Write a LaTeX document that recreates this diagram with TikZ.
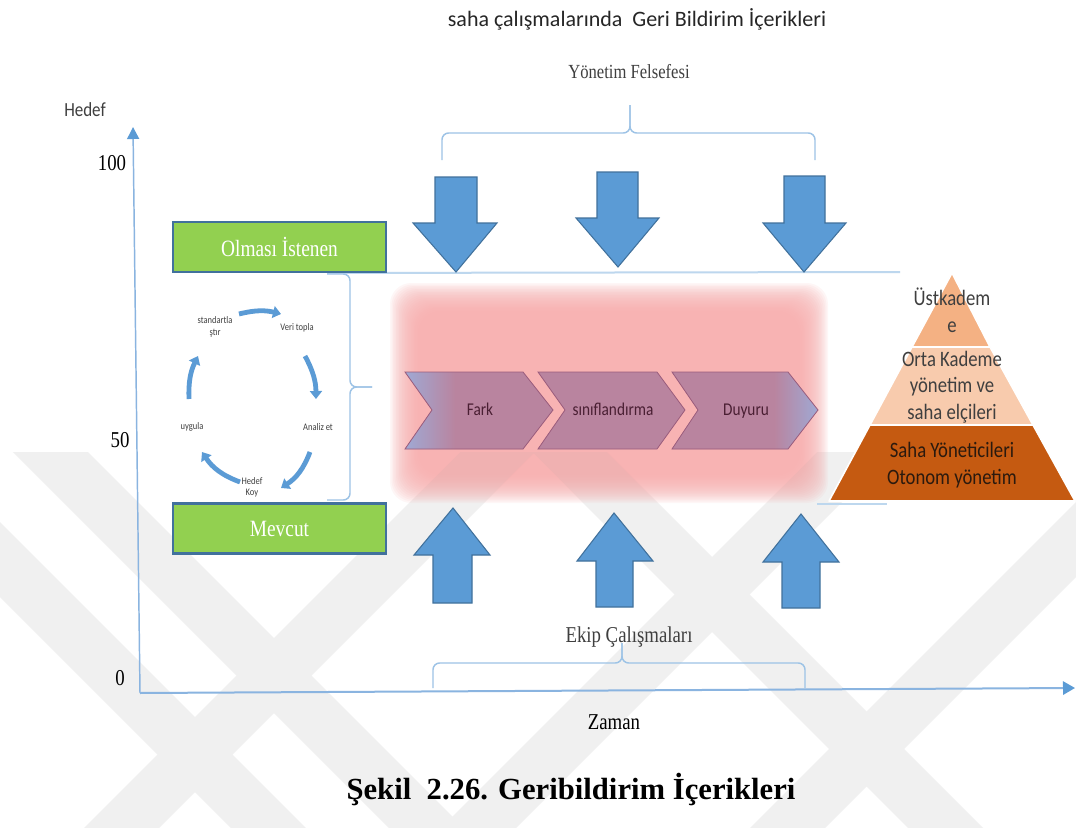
\documentclass[tikz,border=0pt]{standalone}
\usepackage{fontspec}
\usetikzlibrary{arrows.meta}

% Fonts: the figure lettering is set slightly condensed
\newfontfamily\figserif{Liberation Serif}[FakeStretch=0.83]
\newfontfamily\figsans{Carlito}[FakeStretch=0.85]
\newfontfamily\plainserif{Liberation Serif}
\newfontfamily\plainsans{Carlito}

\definecolor{axisblue}{HTML}{8AB4E0}
\definecolor{bracecol}{HTML}{9DC3E6}
\definecolor{linecol}{HTML}{BDD7EE}
\definecolor{arrowfill}{HTML}{5B9BD5}
\definecolor{arrowedge}{HTML}{41719C}
\definecolor{boxgreen}{HTML}{92D050}
\definecolor{glowpink}{HTML}{F8ADAD}
\definecolor{chevfill}{HTML}{B9849F}
\definecolor{chevedge}{HTML}{9A5C7C}
\definecolor{chevblue}{HTML}{9FA9D4}
\definecolor{chevtext}{HTML}{4A1F33}
\definecolor{tiertop}{HTML}{F4B183}
\definecolor{tiermid}{HTML}{F8CBAD}
\definecolor{tierbot}{HTML}{C55A11}
\definecolor{inktext}{HTML}{3F3F3F}
\definecolor{darkink}{HTML}{2B1A0E}
\definecolor{watermark}{HTML}{F0F0F0}

% chevron fills: blue tint only at the outer ends of the chain
\pgfdeclarehorizontalshading{chevstart}{100bp}{color(0bp)=(chevblue); color(25bp)=(chevblue); color(42bp)=(chevfill); color(100bp)=(chevfill)}
\pgfdeclarehorizontalshading{chevend}{100bp}{color(0bp)=(chevfill); color(60bp)=(chevfill); color(75bp)=(chevblue); color(100bp)=(chevblue)}

\tikzset{
  yaxisline/.style={draw=axisblue, line width=1.1pt, -{Triangle[width=9pt,length=9pt,color=arrowfill]}},
  xaxisline/.style={draw=axisblue, line width=1.5pt, -{Triangle[width=10pt,length=9pt,color=arrowfill]}},
  bracket/.style={draw=bracecol, line width=1.1pt, rounded corners=5pt},
  guide/.style={draw=linecol, line width=1.5pt},
  bigarrow/.style={fill=arrowfill, draw=arrowedge, line width=0.8pt, line join=miter},
  greenbox/.style={fill=boxgreen, draw=arrowedge, line width=1.6pt, minimum width=213*0.75pt, minimum height=50*0.75pt, inner sep=0pt, text=white, font=\figserif\fontsize{17.5}{20}\selectfont},
  chevron/.style={draw=chevedge, line width=0.6pt, fill=chevfill},
  chevlabel/.style={text=chevtext, anchor=base, font=\figsans\fontsize{13.5}{16}\selectfont},
  cyclearc/.style={draw=arrowfill, line width=3.6pt, -{Triangle[width=9pt,length=6pt]}},
  cyclelabel/.style={text=inktext, font=\figsans\fontsize{7.5}{8.5}\selectfont, align=center},
  tier/.style={draw=white, line width=1.2pt, line join=round},
  tierlabel/.style={align=center, font=\figsans\fontsize{16.5}{20}\selectfont},
  axislabel/.style={text=black, font=\figserif\fontsize{17}{20}\selectfont},
  band/.style={fill=watermark},
}

\begin{document}
\begin{tikzpicture}[x=0.75pt, y=-0.75pt]
\useasboundingbox (0,0) rectangle (1076,828);
\fill[white] (0,0) rectangle (1076,828);

% light background emblem: diagonal bands at 45 degrees
\begin{scope}
  \clip (0,452) rectangle (1076,828);
  % bands falling to the right (x - y = const)
  \foreach \c in {-439,-597,80} {
    \fill[band] ({\c+400},400) -- ({\c+475},400) -- ({\c+905},830) -- ({\c+830},830) -- cycle;
  }
  % bands rising to the right (x + y = const)
  \foreach \d in {912,1269,1578} {
    \fill[band] ({\d-830},830) -- ({\d-755},830) -- ({\d-325},400) -- ({\d-400},400) -- cycle;
  }
\end{scope}

% title and group labels
\node[font=\plainsans\fontsize{16.5}{20}\selectfont, text=black!85] (title) at (637,19) {saha çalışmalarında\ \ Geri Bildirim İçerikleri};
\node[font=\figserif\fontsize{15}{18}\selectfont, text=inktext] (philo) at (629,72) {Yönetim Felsefesi};
\node[font=\figserif\fontsize{17}{20}\selectfont, text=inktext] (team) at (629,637) {Ekip Çalışmaları};

% axes
\coordinate (O) at (140,693);
\coordinate (ytop) at (133,127);
\coordinate (xend) at (1075,688);
\draw[yaxisline] (O) -- (ytop);
\draw[xaxisline] (O) -- (xend);
\node[font=\figsans\fontsize{15}{18}\selectfont, text=inktext] (hedef) at (85,110) {Hedef};
\node[axislabel] (t100) at (112,163) {100};
\node[axislabel] (t50) at (120,440) {50};
\node[axislabel] (t0) at (120,678) {0};
\node[axislabel] (zaman) at (614,722) {Zaman};

% soft highlight behind the process steps
\foreach \i in {0,...,19} {
  \fill[glowpink, fill opacity=0.1, rounded corners=16pt]
    ({390+1.5*\i},{283+1.5*\i}) rectangle ({828-1.5*\i},{503-1.5*\i});
}

% guide lines
\coordinate (gl) at (327,273);
\coordinate (gr) at (900,272);
\draw[guide] (gl) -- (gr);
\coordinate (pl) at (817,504);
\coordinate (pr) at (887,504);
\draw[guide] (pl) -- (pr);

% top bracket
\coordinate (tb1) at (442,160);
\coordinate (tbc) at (630,105);
\coordinate (tb2) at (815,160);
\draw[bracket] (tb1) -- (442,133) -- (630,133) -- (tbc);
\draw[bracket] (tbc) -- (630,133) -- (815,133) -- (tb2);

% bottom bracket
\coordinate (bb1) at (433,688);
\coordinate (bbc) at (622,643);
\coordinate (bb2) at (805,688);
\draw[bracket] (bb1) -- (433,663) -- (622,663) -- (bbc);
\draw[bracket] (bbc) -- (622,663) -- (805,663) -- (bb2);

% side bracket around the cycle
\coordinate (sb1) at (327,274);
\coordinate (sbc) at (372,387);
\coordinate (sb2) at (327,500);
\draw[bracket] (sb1) -- (350,274) -- (350,387) -- (sbc);
\draw[bracket] (sbc) -- (350,387) -- (350,500) -- (sb2);

% state boxes
\node[greenbox] (want) at (279.5,247) {Olması İstenen};
\node[greenbox] (now) at (279.5,528.5) {Mevcut};

% downward arrows
\path[bigarrow] (435,177) -- (477,177) -- (477,223) -- (497,223) -- (456,272) -- (413,223) -- (435,223) -- cycle;
\path[bigarrow] (597,172) -- (638,172) -- (638,218) -- (659,218) -- (618,267) -- (576,218) -- (597,218) -- cycle;
\path[bigarrow] (784,176) -- (825,176) -- (825,223) -- (846,223) -- (804,272) -- (763,223) -- (784,223) -- cycle;

% upward arrows
\path[bigarrow] (433,603) -- (472,603) -- (472,555) -- (490,555) -- (453,508) -- (414,555) -- (433,555) -- cycle;
\path[bigarrow] (596,607) -- (633,607) -- (633,561) -- (653,561) -- (614,513) -- (577,561) -- (596,561) -- cycle;
\path[bigarrow] (782,608) -- (820,608) -- (820,562) -- (839,562) -- (801,514) -- (763,562) -- (782,562) -- cycle;

% process chevrons
\path[chevron, shading=chevstart]
  (405,372) -- (523,372) -- (553,410) -- (523,449) -- (405,449) -- (432,410) -- cycle;
\path[chevron]
  (538,372) -- (657,372) -- (685,410) -- (657,449) -- (538,449) -- (565,410) -- cycle;
\path[chevron, shading=chevend]
  (672,372) -- (788,372) -- (818,410) -- (788,449) -- (672,449) -- (698,410) -- cycle;
\node[chevlabel] (fark) at (480,415) {Fark};
\node[chevlabel] (sinif) at (613,415) {sınıflandırma};
\node[chevlabel] (duyuru) at (746,415) {Duyuru};

% improvement cycle
\node[cyclelabel] (c1) at (215,327) {standartla\\ştır};
\node[cyclelabel] (c2) at (297,328) {Veri topla};
\node[cyclelabel] (c3) at (318,427) {Analiz et};
\node[cyclelabel] (c4) at (252,487) {Hedef\\Koy};
\node[cyclelabel] (c5) at (192,427) {uygula};
\coordinate (a1s) at (239,314); \coordinate (a1e) at (281,314);
\coordinate (a2s) at (305,356); \coordinate (a2e) at (316,399);
\coordinate (a3s) at (310,452); \coordinate (a3e) at (281,488);
\coordinate (a4s) at (240,482); \coordinate (a4e) at (202,452);
\coordinate (a5s) at (189,399); \coordinate (a5e) at (198,356);
\draw[cyclearc] (a1s) to[bend left=14] (a1e);
\draw[cyclearc] (a2s) to[bend left=14] (a2e);
\draw[cyclearc] (a3s) to[bend left=18] (a3e);
\draw[cyclearc] (a4s) to[bend left=18] (a4e);
\draw[cyclearc] (a5s) to[bend left=14] (a5e);

% management pyramid
\path[tier, fill=tierbot] (870,425) -- (1033,425) -- (1075,501) -- (829,501) -- cycle;
\path[tier, fill=tiermid] (912,347) -- (990,347) -- (1033,425) -- (870,425) -- cycle;
\path[tier, fill=tiertop] (952,273) -- (990,347) -- (912,347) -- cycle;
\node[tierlabel, text=inktext] (top) at (952,310) {Üstkadem\\e};
\node[tierlabel, text=inktext] (mid) at (952,387) {Orta Kademe\\yönetim ve\\saha elçileri};
\node[tierlabel, text=darkink] (base) at (952,465) {Saha Yöneticileri\\Otonom yönetim};

% caption
\node[font=\plainserif\bfseries\fontsize{23}{27}\selectfont] (caption) at (571,790) {Şekil\ \ 2.26. Geribildirim İçerikleri};
\end{tikzpicture}
\end{document}
